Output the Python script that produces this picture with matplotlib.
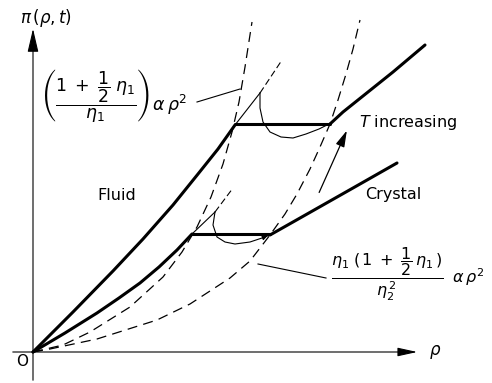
import numpy as np
import matplotlib
matplotlib.use("Agg")
import matplotlib.pyplot as plt

# Schematic pi(rho, t) isotherms, origin at (0, 0); units are arbitrary
# higher temperature isotherm (thick)
upper_fluid_x = [0, 40, 80, 110, 140, 165, 185, 202]
upper_fluid_y = [0, 40, 81, 113, 147, 178, 203, 227]
upper_tie_x = [202, 297]
upper_tie_y = [228, 228]
upper_crystal_x = [297, 310, 330, 360, 392]
upper_crystal_y = [228, 240, 256, 280, 307]

# lower temperature isotherm (thick)
lower_fluid_x = [0, 32, 64, 86, 107, 126, 144, 159]
lower_fluid_y = [0, 19, 39, 54, 69, 85, 102, 118]
lower_tie_x = [159, 237]
lower_tie_y = [118, 118]
lower_crystal_x = [237, 260, 290, 320, 364]
lower_crystal_y = [117, 130, 147, 164, 189]

# metastable continuations past the tie lines (solid part, then dashed)
upper_meta_x = [202, 227]
upper_meta_y = [227, 259]
upper_meta_dash_x = [227, 249]
upper_meta_dash_y = [259, 292]
lower_meta_x = [159, 182]
lower_meta_y = [118, 140]
lower_meta_dash_x = [182, 200]
lower_meta_dash_y = [140, 164]

# van der Waals type loops
upper_loop_x = [227, 227, 230, 237, 248, 260, 273, 286, 298]
upper_loop_y = [259, 244, 230, 220, 215, 214, 218, 223, 229]
lower_loop_x = [182, 180, 184, 192, 202, 217, 229, 237]
lower_loop_y = [140, 127, 115, 110, 108, 110, 114, 117]

# dashed rho^2 envelopes
fluid_env_x = [0, 30, 57, 97, 130, 149, 164, 178, 190, 199, 206, 212, 219]
fluid_env_y = [0, 7, 20, 45, 75, 100, 125, 155, 188, 220, 250, 285, 330]
crystal_env_x = [0, 17, 64, 124, 157, 197, 217, 237, 252, 264, 277, 287, 297,
                 305, 313, 320, 327]
crystal_env_y = [0, 3, 13, 32, 48, 74, 91, 117, 138, 158, 183, 205, 228,
                 252, 278, 303, 332]

plt.rcParams['mathtext.fontset'] = 'dejavusans'

fig = plt.figure(figsize=(4.92, 3.83), dpi=100)
ax = fig.add_axes([0, 0, 1, 1])
ax.set_xlim(-33, 459)
ax.set_ylim(-31, 352)
ax.axis('off')

thick = dict(color='black', lw=2.2, solid_capstyle='round', solid_joinstyle='round')
thin = dict(color='black', lw=0.8)
dashed = dict(color='black', lw=0.9, ls=(0, (8, 5)))

# axes with arrow heads
ax.annotate('', xy=(0, 326), xytext=(0, -31),
            arrowprops=dict(arrowstyle='-|>,head_length=1.2,head_width=0.28',
                            lw=0.8, color='black', mutation_scale=12))
ax.annotate('', xy=(387, 0), xytext=(-23, 0),
            arrowprops=dict(arrowstyle='-|>,head_length=1.0,head_width=0.22',
                            lw=0.8, color='black', mutation_scale=12))

ax.plot(fluid_env_x, fluid_env_y, **dashed)
ax.plot(crystal_env_x, crystal_env_y, **dashed)

for xs, ys in [(upper_fluid_x, upper_fluid_y), (upper_tie_x, upper_tie_y),
               (upper_crystal_x, upper_crystal_y), (lower_fluid_x, lower_fluid_y),
               (lower_tie_x, lower_tie_y), (lower_crystal_x, lower_crystal_y)]:
    ax.plot(xs, ys, **thick)

ax.plot(upper_meta_x, upper_meta_y, **thin)
ax.plot(upper_meta_dash_x, upper_meta_dash_y, color='black', lw=0.8, ls=(0, (6, 3)))
ax.plot(lower_meta_x, lower_meta_y, **thin)
ax.plot(lower_meta_dash_x, lower_meta_dash_y, color='black', lw=0.8, ls=(0, (6, 3)))

ax.plot(upper_loop_x, upper_loop_y, **thin)
ax.plot(lower_loop_x, lower_loop_y, **thin)
ax.annotate('', xy=(lower_loop_x[-1], lower_loop_y[-1]),
            xytext=(lower_loop_x[-2], lower_loop_y[-2]),
            arrowprops=dict(arrowstyle='-|>', lw=0.8, color='black', mutation_scale=7))

# "T increasing" arrow
ax.annotate('', xy=(315, 224), xytext=(285, 157),
            arrowprops=dict(arrowstyle='-|>,head_length=0.9,head_width=0.25',
                            lw=0.9, color='black', mutation_scale=11))

# leader lines from the formulas to the envelopes
ax.plot([164, 207], [250, 263], **thin)
ax.plot([225, 293], [88, 74], **thin)

# labels
ax.text(-13, 334, r'$\pi\,(\rho,t)$', fontsize=12, ha='left', va='center')
ax.text(-11, -9, 'O', fontsize=11, ha='center', va='center')
ax.text(396, 0, r'$\rho$', fontsize=12, ha='left', va='center')
ax.text(84, 156, 'Fluid', fontsize=11.5, ha='center', va='center')
ax.text(360, 157, 'Crystal', fontsize=11.5, ha='center', va='center')
ax.text(326, 229, r'$T$ increasing', fontsize=11.5, ha='left', va='center')

ax.text(9, 256, r'$\left(\dfrac{1\;+\;\dfrac{1}{2}\;\eta_1}{\eta_1}\right)\,\alpha\,\rho^2$',
        fontsize=12.5, ha='left', va='center')
ax.text(298, 78, r'$\dfrac{\eta_1\;(\,1\;+\;\dfrac{1}{2}\,\eta_1\,)}{\eta_2^{\,2}}\;\;\alpha\,\rho^2$',
        fontsize=11.5, ha='left', va='center')

fig.savefig('out.png', dpi=100)
